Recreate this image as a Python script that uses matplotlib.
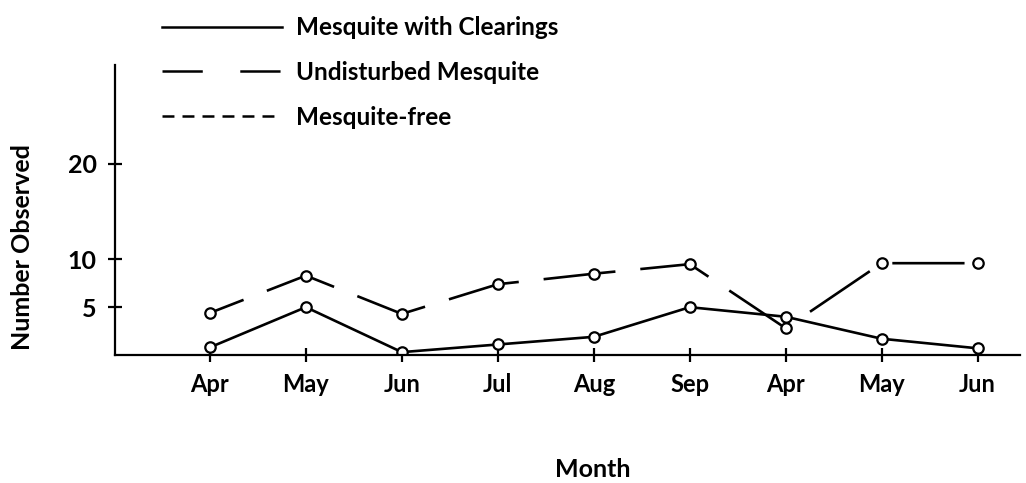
import matplotlib.pyplot as plt
from matplotlib.lines import Line2D

plt.rcParams['font.family'] = ['Lato', 'DejaVu Sans']
plt.rcParams['font.weight'] = 'bold'
plt.rcParams['axes.labelweight'] = 'bold'
plt.rcParams['lines.scale_dashes'] = False

months = ['Apr', 'May', 'Jun', 'Jul', 'Aug', 'Sep', 'Apr', 'May', 'Jun']
clearings = [0.8, 5.0, 0.3, 1.1, 1.9, 5.0, 4.0, 1.7, 0.7]
undisturbed = [4.4, 8.3, 4.3, 7.4, 8.5, 9.5, 2.8, 9.6, 9.6]
mesquite_free = [0, 0, 0, 0, 0, 0, 0, 0, 0]
yticks = [5, 10, 20]

x = list(range(len(months)))

fig = plt.figure(figsize=(10.26, 4.83), dpi=100)
ax = fig.add_axes([0.112, 0.265, 0.882, 0.6])

mk = dict(marker='o', markersize=7.5, markerfacecolor='white', markeredgecolor='black',
          markeredgewidth=1.6)
ax.plot(x, mesquite_free, color='black', lw=1.8, linestyle=(0, (8.6, 5.8)), zorder=1)
ax.plot(x, clearings, color='black', lw=1.9, **mk)
ax.plot(x, undisturbed, color='black', lw=1.9, linestyle=(26, (52, 18)), **mk)

ax.set_xlim(-0.99, 8.44)
ax.set_ylim(0, 30.3)
ax.set_xticks(x)
ax.set_xticklabels(months, fontsize=17)
ax.set_yticks(yticks)
ax.set_yticklabels([str(v) for v in yticks], fontsize=18)

for s in ['top', 'right']:
    ax.spines[s].set_visible(False)
for s in ['left', 'bottom']:
    ax.spines[s].set_linewidth(1.6)
ax.tick_params(axis='both', direction='inout', length=10, width=1.6, pad=8)

ax.set_ylabel('Number Observed', fontsize=18)
ax.yaxis.set_label_coords(-0.0895, 0.372)
ax.set_xlabel('Month', fontsize=18)
ax.xaxis.set_label_coords(0.528, -0.355)

handles = [
    Line2D([], [], color='black', lw=1.8),
    Line2D([], [], color='black', lw=1.8, linestyle=(0, (29, 27))),
    Line2D([], [], color='black', lw=1.8, linestyle=(0, (8.6, 5.8))),
]
labels = ['Mesquite with Clearings', 'Undisturbed Mesquite', 'Mesquite-free']
fig.legend(handles, labels, loc='upper left', bbox_to_anchor=(0.137, 1.012),
           frameon=False, fontsize=17.5, handlelength=4.9, handletextpad=0.6,
           labelspacing=0.9)

fig.savefig('out.png', dpi=100)
